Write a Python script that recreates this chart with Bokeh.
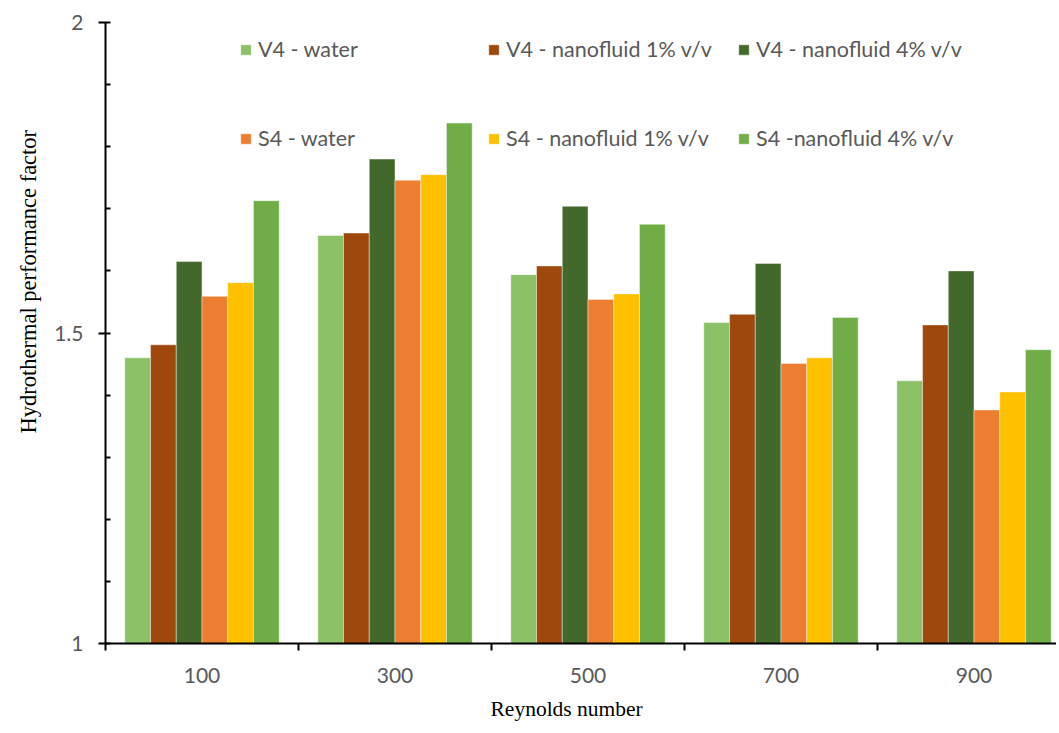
from bokeh.plotting import figure
from bokeh.models import Range1d, FixedTicker, Legend, LegendItem, Title, ColumnDataSource
from bokeh.embed import file_html
from bokeh.resources import INLINE

reynolds = ["100", "300", "500", "700", "900"]
series_names = ["V4 - water", "V4 - nanofluid 1% v/v", "V4 - nanofluid 4% v/v",
                "S4 - water", "S4 - nanofluid 1% v/v", "S4 -nanofluid 4% v/v"]
v4_water = [1.460, 1.657, 1.594, 1.517, 1.423]
v4_nf1 = [1.481, 1.661, 1.608, 1.530, 1.513]
v4_nf4 = [1.615, 1.780, 1.704, 1.612, 1.600]
s4_water = [1.559, 1.746, 1.554, 1.451, 1.376]
s4_nf1 = [1.581, 1.755, 1.563, 1.460, 1.405]
s4_nf4 = [1.713, 1.838, 1.675, 1.525, 1.473]
colors = ["#8CC168", "#9E480E", "#43682B", "#ED7D31", "#FFC000", "#70AD47"]
y_ticks = [1, 1.5, 2]

all_series = [v4_water, v4_nf1, v4_nf4, s4_water, s4_nf1, s4_nf4]

FONT = "Lato"
GRAY = "#595959"

W, H = 1056, 733
LEFT, TOP = 105, 22
BOTTOM = H - 643
p = figure(width=W, height=H, output_backend="svg", toolbar_location=None,
           x_range=Range1d(0, (W - LEFT) / 193), y_range=Range1d(1, 2),
           min_border_left=LEFT, min_border_right=0, min_border_top=TOP, min_border_bottom=BOTTOM)
p.outline_line_color = None
p.xgrid.visible = False
p.ygrid.visible = False

n = len(all_series)
bw = 0.8 / n
renderers = []
for i, (vals, col) in enumerate(zip(all_series, colors)):
    xs = [g + 0.1 + (i + 0.5) * bw for g in range(len(reynolds))]
    src = ColumnDataSource(dict(x=xs, top=vals))
    r = p.vbar(x="x", top="top", bottom=1, width=bw, source=src,
               fill_color=col, line_color="white", line_width=0.6, line_alpha=0.7)
    renderers.append(r)

# x axis
p.xaxis.ticker = FixedTicker(ticks=[g + 0.5 for g in range(len(reynolds))],
                             minor_ticks=list(range(len(reynolds) + 1)))
p.xaxis.major_label_overrides = {g + 0.5: lab for g, lab in enumerate(reynolds)}
p.xaxis.major_tick_out = 0
p.xaxis.major_tick_in = 0
p.xaxis.minor_tick_out = 7
p.xaxis.minor_tick_in = 0
p.xaxis.major_label_standoff = 17
p.xaxis.major_label_text_font = FONT
p.xaxis.major_label_text_font_size = "21px"
p.xaxis.major_label_text_color = GRAY
p.xaxis.axis_line_width = 2
p.xaxis.axis_line_color = "black"
p.xaxis.minor_tick_line_width = 2
p.xaxis.minor_tick_line_color = "black"

# y axis
p.yaxis.ticker = FixedTicker(ticks=y_ticks, minor_ticks=[1.1, 1.2, 1.3, 1.4, 1.6, 1.7, 1.8, 1.9])
p.yaxis.major_label_overrides = {1: "1", 1.5: "1.5", 2: "2"}
p.yaxis.major_tick_out = 7
p.yaxis.major_tick_in = 5
p.yaxis.minor_tick_out = 0
p.yaxis.minor_tick_in = 5
p.yaxis.major_label_standoff = 15
p.yaxis.major_label_text_font = FONT
p.yaxis.major_label_text_font_size = "21px"
p.yaxis.major_label_text_color = GRAY
p.yaxis.axis_line_width = 2
p.yaxis.axis_line_color = "black"
p.yaxis.major_tick_line_width = 2
p.yaxis.minor_tick_line_width = 2

# axis titles
p.add_layout(Title(text="Hydrothermal performance factor", align="left", offset=210,
                   standoff=22, text_font="Liberation Serif", text_font_size="22.5px",
                   text_font_style="normal", text_color="black"), "left")
p.add_layout(Title(text="Reynolds number", align="left", offset=385,
                   standoff=18, text_font="Liberation Serif", text_font_size="21.5px",
                   text_font_style="normal", text_color="black"), "below")

# legends: three columns, two rows
col_x = [239, 487, 737]
for c in range(3):
    items = [LegendItem(label=series_names[c], renderers=[renderers[c]]),
             LegendItem(label=series_names[c + 3], renderers=[renderers[c + 3]])]
    leg = Legend(items=items, location=(col_x[c] - LEFT, 643 - 151),
                 orientation="vertical", padding=0, margin=0, spacing=63,
                 glyph_width=13, glyph_height=13, label_height=22, label_standoff=6,
                 label_text_font=FONT, label_text_font_size="21.5px", label_text_color=GRAY,
                 border_line_alpha=0, background_fill_alpha=0)
    p.add_layout(leg, "center")

open("out.html", "w").write(file_html(p, INLINE))
